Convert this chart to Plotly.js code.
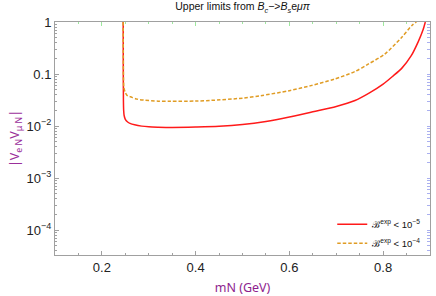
<!DOCTYPE html>
<html><head><meta charset="utf-8">
<script src="https://cdn.plot.ly/plotly-3.0.1.min.js"></script>
<style>html,body{margin:0;padding:0;background:#fff}#c{width:436px;height:296px}</style>
</head><body><div id="c"></div>
<script>
// Red: B^exp < 1e-5
const mN_red = [0.2455,0.2457,0.2460,0.2465,0.2475,0.250,0.255,0.260,0.270,0.285,0.300,0.320,0.350,0.400,0.450,0.500,0.550,0.600,0.650,0.700,0.740,0.770,0.800,0.820,0.840,0.860,0.875,0.885,0.890];
const V_red  = [1.0,0.1,0.03,0.02,0.016,0.0135,0.0120,0.0113,0.0106,0.0100,0.0097,0.00955,0.00945,0.0096,0.0099,0.0107,0.0123,0.0150,0.0189,0.0238,0.031,0.043,0.064,0.090,0.130,0.225,0.42,0.70,1.0];
// Orange: B^exp < 1e-4
const mN_org = [0.2455,0.2458,0.2462,0.2470,0.250,0.255,0.261,0.275,0.289,0.320,0.346,0.400,0.432,0.500,0.539,0.600,0.646,0.696,0.740,0.768,0.803,0.839,0.861,0.871];
const V_org  = [1.0,0.2,0.08,0.055,0.044,0.038,0.0366,0.0330,0.0316,0.0302,0.0300,0.0303,0.0312,0.0345,0.0385,0.048,0.060,0.080,0.112,0.155,0.24,0.50,0.85,1.0];
const names = ["ℬ<sup>exp</sup> &lt; 10<sup>−5</sup>","ℬ<sup>exp</sup> &lt; 10<sup>−4</sup>"];
const yMajor = [1,0.1,0.01,0.001,0.0001];
const yMajorText = ["1","0.1","10<sup>−2</sup>","10<sup>−3</sup>","10<sup>−4</sup>"];
const xRange = [0.1,0.9];
const yRangeLog = [-4.475,0];

const yMinor = [];
for (let e=-5;e<0;e++) for (let k=2;k<=9;k++){const v=k*Math.pow(10,e); if (Math.log10(v)>=yRangeLog[0]) yMinor.push(v);}

const traces = [
 {x:mN_red,y:V_red,mode:'lines',name:names[0],line:{color:'#ff1a1a',width:1.5,shape:'spline',smoothing:0.8},xaxis:'x',yaxis:'y'},
 {x:mN_org,y:V_org,mode:'lines',name:names[1],line:{color:'#e09c24',width:1.5,dash:'3.5px,2px',shape:'spline',smoothing:0.8},xaxis:'x',yaxis:'y'},
 // empty traces only to instantiate the frame axes (top / right / minor)
 {x:[],y:[],xaxis:'x2',yaxis:'y',showlegend:false,hoverinfo:'skip'},
 {x:[],y:[],xaxis:'x',yaxis:'y2',showlegend:false,hoverinfo:'skip'},
 {x:[],y:[],xaxis:'x',yaxis:'y3',showlegend:false,hoverinfo:'skip'}
];
const frame='#a0a0a0';
const layout = {
 width:436,height:296,margin:{l:55,r:6,t:22,b:41.3},
 paper_bgcolor:'#fff',plot_bgcolor:'#fff',
 font:{family:'Liberation Sans, Arial, sans-serif',color:'#222'},
 title:{text:'Upper limits from <i>B</i><sub><i>c</i></sub>−><i>B</i><sub><i>s</i></sub>e<i>μπ</i>',font:{size:10.5,color:'#111'},x:0.5,xref:'paper',y:0.977,yref:'container',yanchor:'middle'},
 showlegend:true,
 legend:{x:0.99,xanchor:'right',y:-0.012,yanchor:'bottom',bgcolor:'rgba(0,0,0,0)',font:{size:9.5,color:'#111'},itemwidth:30,tracegroupgap:0},
 xaxis:{range:xRange,automargin:false,showline:true,linecolor:frame,linewidth:1,ticks:'inside',ticklen:4,tickcolor:frame,dtick:0.2,tick0:0,
   tickformat:'.1f',tickfont:{size:13,color:'#222'},showgrid:false,zeroline:false,
   minor:{dtick:0.05,tick0:0,ticks:'inside',ticklen:2,tickcolor:frame,showgrid:false},
   title:{text:'mN (GeV)',font:{size:12.5,color:'#8e1e8e',family:'Noto Sans, sans-serif'}}},
 xaxis2:{range:xRange,automargin:false,overlaying:'x',anchor:'y',side:'top',showline:true,linecolor:frame,ticks:'inside',ticklen:4,tickcolor:'#9ee89e',dtick:0.2,tick0:0,showticklabels:false,showgrid:false,zeroline:false,
   minor:{dtick:0.05,tick0:0,ticks:'inside',ticklen:2,tickcolor:'#9ee89e',showgrid:false}},
 yaxis:{type:'log',range:yRangeLog,automargin:false,showline:true,linecolor:frame,ticks:'inside',ticklen:4,tickcolor:frame,tickmode:'array',tickvals:yMajor,ticktext:yMajorText,
   tickfont:{size:13,color:'#222'},showgrid:false,zeroline:false,
   title:{text:'|V<sub>e N</sub>V<sub>μ N</sub>|',font:{size:12.5,color:'#9b2f9b',family:'Noto Sans, sans-serif'}}},
 yaxis3:{type:'log',range:yRangeLog,automargin:false,overlaying:'y',anchor:'x',side:'left',ticks:'inside',ticklen:2,tickcolor:frame,tickmode:'array',tickvals:yMinor,showticklabels:false,showgrid:false,zeroline:false,showline:false},
 yaxis2:{type:'log',range:yRangeLog,automargin:false,overlaying:'y',anchor:'x',side:'right',showline:true,linecolor:frame,ticks:'inside',ticklen:3,tickcolor:'#aab0f0',tickmode:'array',tickvals:yMajor.concat(yMinor),showticklabels:false,showgrid:false,zeroline:false}
};
Plotly.newPlot('c',traces,layout,{staticPlot:true,displayModeBar:false});
</script></body></html>
